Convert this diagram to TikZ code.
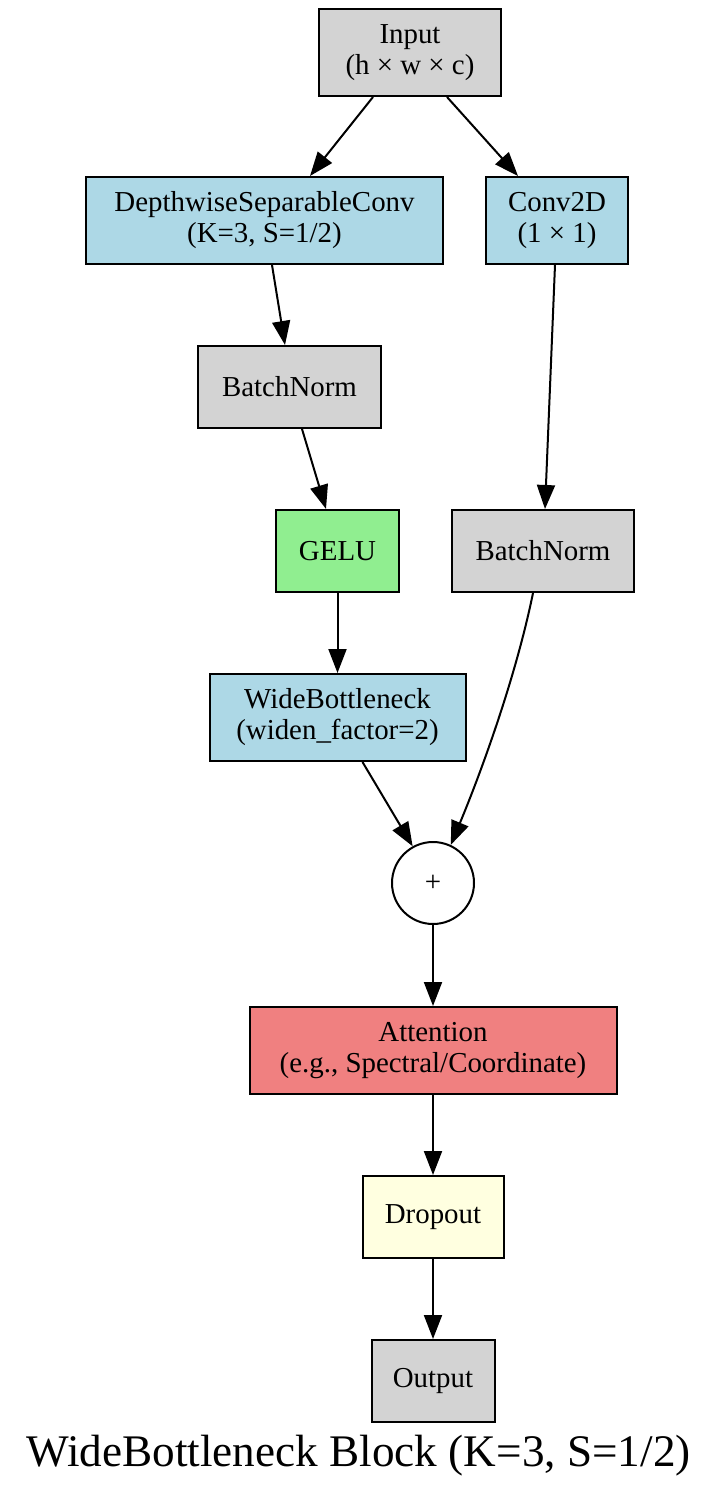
\documentclass[tikz,border=0pt]{standalone}
\usepackage{fontspec}
\setmainfont{Liberation Serif}
\usetikzlibrary{arrows.meta,calc}

\definecolor{gvgray}{HTML}{D3D3D3}
\definecolor{gvblue}{HTML}{ADD8E6}
\definecolor{gvgreen}{HTML}{90EE90}
\definecolor{gvcoral}{HTML}{F08080}
\definecolor{gvyellow}{HTML}{FFFFE0}

\begin{document}
\begin{tikzpicture}[
  x=0.5pt,
  y=-0.5pt,
  line width=1pt,
  >={Triangle[length=12pt,width=9pt]},
  blk/.style={
    draw,
    rectangle,
    align=center,
    inner sep=2pt,
    font=\fontsize{14.45}{15.5}\selectfont,
  },
  twoline/.style={blk, minimum height=43.5pt},
  oneline/.style={blk, minimum height=41pt},
]
  \useasboundingbox (0,0) rectangle (720,1500);

  % nodes, in pixel coordinates of the layout
  \node[twoline, fill=gvgray, minimum width=91pt] (input) at (410,52.5)
    {Input\\(h × w × c)};
  \node[twoline, fill=gvblue, minimum width=178.5pt] (dsconv) at (264.5,220.5)
    {DepthwiseSeparableConv\\(K=3, S=1/2)};
  \node[twoline, fill=gvblue, minimum width=71pt] (conv) at (557,220.5)
    {Conv2D\\(1 × 1)};
  \node[oneline, fill=gvgray, minimum width=91.5pt] (bnA) at (289.5,387) {BatchNorm};
  \node[oneline, fill=gvgreen, minimum width=61.5pt] (gelu) at (337.5,551) {GELU};
  \node[oneline, fill=gvgray, minimum width=91pt] (bnB) at (543,551) {BatchNorm};
  \node[twoline, fill=gvblue, minimum width=128pt] (wide) at (337.5,717.5)
    {WideBottleneck\\(widen\_factor=2)};
  \node[draw, circle, minimum size=41pt, inner sep=0pt,
    font=\fontsize{14.45}{15.5}\selectfont] (plus) at (433,883) {+};
  \node[twoline, fill=gvcoral, minimum width=183.5pt] (attn) at (433,1050.5)
    {Attention\\(e.g., Spectral/Coordinate)};
  \node[oneline, fill=gvyellow, minimum width=70.5pt] (drop) at (433,1217) {Dropout};
  \node[oneline, fill=gvgray, minimum width=61.5pt] (out) at (433,1381) {Output};
  \node[anchor=base, font=\fontsize{22.6}{27}\selectfont] (title) at (358.5,1466)
    {WideBottleneck Block (K=3, S=1/2)};

  % edges
  \draw[->] ($(input.south)+(-37,0)$) -- ($(dsconv.north)+(45.5,0)$);
  \draw[->] ($(input.south)+(37,0)$) -- ($(conv.north)+(-39,0)$);
  \draw[->] ($(dsconv.south)+(7.5,0)$) -- ($(bnA.north)+(-4.5,0)$);
  \draw[->] ($(conv.south)+(-2,0)$) -- ($(bnB.north)+(2,0)$);
  \draw[->] ($(bnA.south)+(12.5,0)$) -- ($(gelu.north)+(-11.5,0)$);
  \draw[->] (gelu) -- (wide);
  \draw[->] ($(wide.south)+(25,0)$) -- (plus.119);
  \draw[->] ($(bnB.south)+(-10,0)$) .. controls +(-18,88) and +(28,-67) .. (plus.65);
  \draw[->] (plus) -- (attn);
  \draw[->] (attn) -- (drop);
  \draw[->] (drop) -- (out);
\end{tikzpicture}
\end{document}
